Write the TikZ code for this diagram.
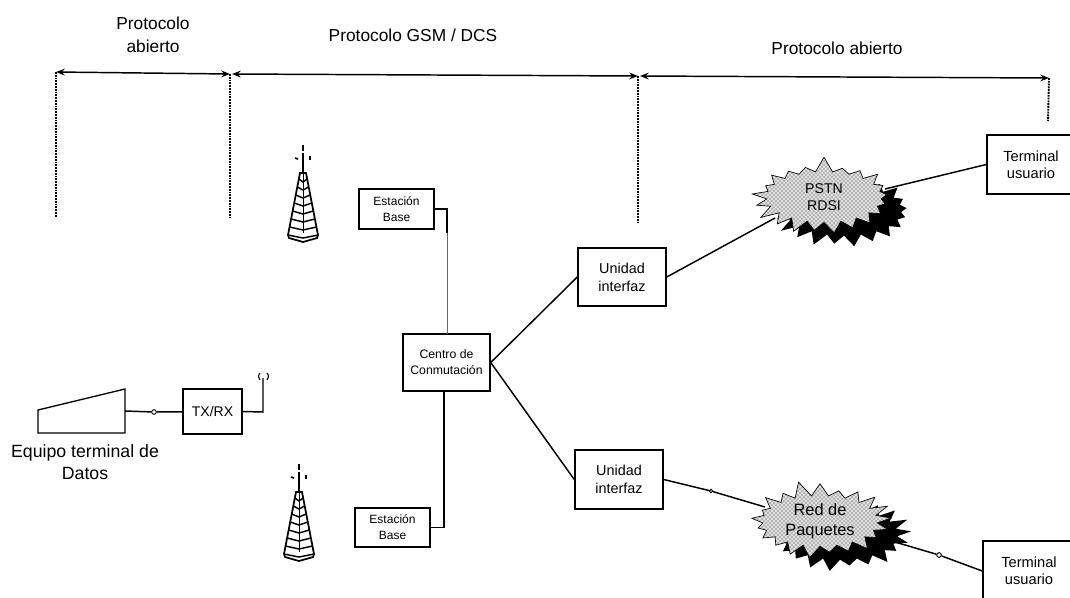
\documentclass[tikz,border=0pt]{standalone}
\usepackage{fontspec}
\setmainfont{Liberation Sans}
\usepackage{tikz}
\usetikzlibrary{arrows.meta,shapes,shapes.symbols,patterns,shadows,positioning}

\begin{document}
\begin{tikzpicture}[x=0.75pt,y=-0.75pt]
	\tikzset{line/.style={draw,line width=1.1pt}}
	\tikzset{arrow/.style={line,<->,>={Stealth[length=6.5pt,width=5pt]}}}
	\tikzset{limit/.style={draw,line width=1.4pt,dash pattern=on 1.4pt off 0.7pt}}
	\tikzset{box/.style={line,shape=rectangle,inner sep=1pt,align=center,fill=white}}
	\tikzset{joint/.style={draw,line width=0.7pt,shape=circle,inner sep=0pt,minimum width=3.5pt,fill=white}}
	\tikzset{label/.style={align=center,inner sep=0pt,font=\fontsize{13}{17}\selectfont}}
	\tikzset{burst/.style={shape=starburst,starburst points=21,starburst point height=12pt,inner sep=0pt,align=center,draw,line width=0.5pt,drop shadow={shadow xshift=15pt,shadow yshift=-10pt,opacity=1,fill=black},preaction={fill=black!12},pattern=crosshatch dots,pattern color=black!85}}

	% Tower: drawn from its tip downwards
	\tikzset{pics/tower/.style={code={%
				\draw[line width=0.9pt] (0,0) -- (0,6);
				\draw[line width=2.2pt] (0,8) -- (0,28);
				\draw[line width=1.2pt] (-8,13) -- (-5,14);
				\draw[line width=1.2pt] (7,11) -- (7,15);
				\draw[line width=1.3pt] (-3,28) -- (-15,90) -- (-14,93) -- (0,97) -- (14,93) -- (15,90) -- (3,28) -- cycle;
				\draw[line width=0.7pt] (0,28) -- (0,88);
				\foreach \y in {34,42,...,90}{
					\pgfmathsetmacro{\w}{3+(\y-28)/62*12}
					\draw[line width=1.1pt] (-\w,\y) -- (0,\y+3) -- (\w,\y);
				}
			}}}

	\path[use as bounding box,clip] (0,0) rectangle (1070,597);

	\node[label] (open1) at (153,35) {Protocolo\\abierto};
	\node[label] (gsm) at (413,35) {Protocolo GSM / DCS};
	\node[label] (open2) at (837,48) {Protocolo abierto};

	\coordinate (a1) at (56,72);
	\coordinate (a2) at (230,74);
	\coordinate (a3) at (232,74);
	\coordinate (a4) at (638,76);
	\coordinate (a5) at (640,76);
	\coordinate (a6) at (1049,78);
	\coordinate (b1) at (56,217);
	\coordinate (b2) at (230,218);
	\coordinate (b3) at (638,222);
	\coordinate (b4) at (1048,121);

	\path[arrow] (a1) to (a2);
	\path[arrow] (a3) to (a4);
	\path[arrow] (a5) to (a6);

	\path[limit] (a1) to (b1);
	\path[limit] (a2) to (b2);
	\path[limit] (a4) to (b3);
	\path[limit] (a6) to (b4);

	\pic at (303,145) {tower};
	\pic at (299,464) {tower};

	\node[box,minimum width=56.25pt,minimum height=30pt,font=\fontsize{9}{12}\selectfont] (base1) at (396.5,209) {Estación\\Base};
	\node[box,minimum width=56.25pt,minimum height=29.25pt,font=\fontsize{9}{12}\selectfont] (base2) at (392.5,527.5) {Estación\\Base};
	\node[box,minimum width=65.25pt,minimum height=42.75pt,font=\fontsize{9.2}{12}\selectfont] (centro) at (446.5,362.5) {Centro de\\Conmutación};
	\node[box,minimum width=66pt,minimum height=43.5pt,font=\fontsize{10.8}{13.5}\selectfont] (unit1) at (622,277) {Unidad\\interfaz};
	\node[box,minimum width=66pt,minimum height=44.25pt,font=\fontsize{10.8}{13.5}\selectfont] (unit2) at (619,479.5) {Unidad\\interfaz};
	\node[box,minimum width=66pt,minimum height=44.25pt,font=\fontsize{11}{13}\selectfont] (term1) at (1031,164.5) {Terminal\\usuario};
	\node[box,minimum width=69pt,minimum height=45pt,font=\fontsize{11}{13}\selectfont] (term2) at (1029,571) {Terminal\\usuario};
	\node[box,minimum width=44.25pt,minimum height=33.75pt,font=\fontsize{10.5}{13}\selectfont] (txrx) at (212.5,411.5) {TX/RX};

	% Data terminal and its antenna
	\draw[line width=1pt] (38,410) -- (125,389) -- (125,433) -- (38,433) -- cycle;
	\coordinate (equipo) at (125,411);
	\node[inner sep=0pt,align=center,font=\fontsize{13.3}{16.5}\selectfont] (equipolabel) at (85,462) {Equipo terminal de\\Datos};
	\node[joint] (j1) at (154,412) {};
	\coordinate (mast) at (263,378);
	\path[line] (equipo) to (j1);
	\path[line] (j1) to (txrx);
	\path[line] (txrx.east) -- (263,412) -- (mast);
	\draw[line width=0.8pt] (260,373) .. controls (258,376) .. (260,380);
	\draw[line width=0.8pt] (267,373) .. controls (269,376) .. (267,380);

	% Links
	\coordinate (drop) at (447,233);
	\coordinate (pstnin) at (775,218);
	\coordinate (pstnout) at (885,189);
	\coordinate (redin) at (765,507);
	\coordinate (redout) at (895,542);
	\node[joint,minimum width=2.5pt] (j2) at (711,491) {};
	\node[joint] (j3) at (939,555) {};

	\path[line] (base1.east) -| (drop);
	\path[draw,line width=0.7pt,black!60] (drop) to (447,334);
	\path[line] (base2.east) -| (centro.south -| 444,391);
	\path[line] (centro.east) to (unit1.west);
	\path[line] (centro.east) to (unit2.west);
	\path[line] (unit1.east) to (pstnin);
	\path[line] (pstnout) to (term1.west);
	\path[line] (unit2.east) to (j2);
	\path[line] (j2) to (redin);
	\path[line] (redout) to (j3);
	\path[line] (j3) to (term2.west);

	\node[burst,minimum width=110pt,minimum height=62pt,font=\fontsize{10.6}{13}\selectfont,random starburst=7] (pstn) at (824,197) {PSTN\\RDSI};
	\node[burst,minimum width=110pt,minimum height=62pt,font=\fontsize{12.3}{15}\selectfont,random starburst=11] (red) at (820,521) {Red de\\Paquetes};
\end{tikzpicture}
\end{document}
